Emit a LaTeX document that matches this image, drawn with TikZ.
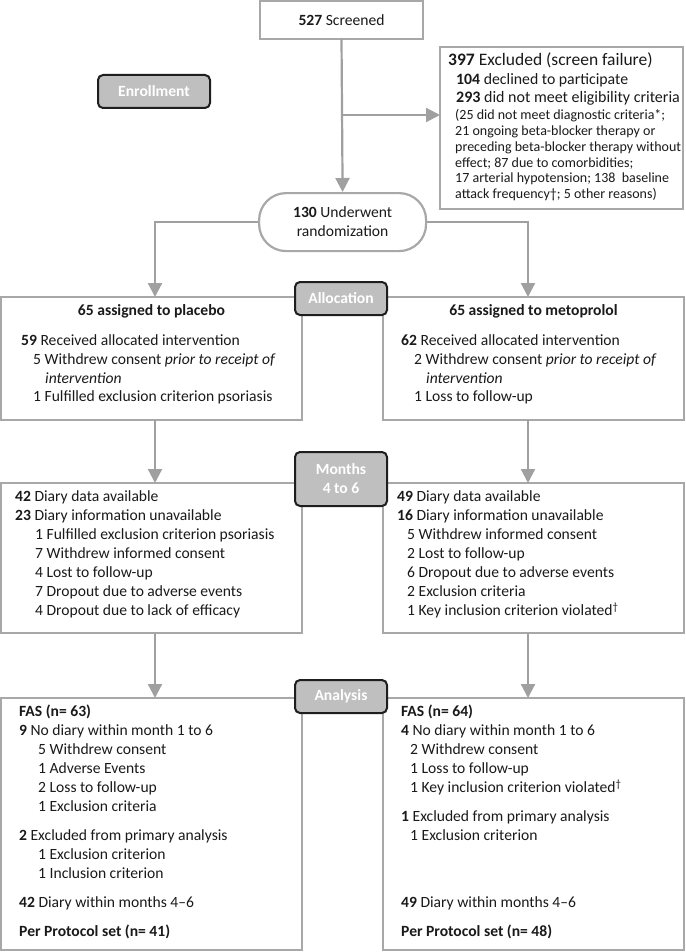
\documentclass[tikz,border=0pt]{standalone}
\usepackage{fontspec}
\setmainfont{Carlito}
\usetikzlibrary{arrows.meta}
\definecolor{conncol}{HTML}{A0A0A0}
\definecolor{boxcol}{HTML}{A8A8A8}
\definecolor{labfill}{HTML}{BFBFBF}
\definecolor{labedge}{HTML}{1E1E1E}
\definecolor{txtcol}{HTML}{1A1A1A}
\begin{document}
\begin{tikzpicture}[x=1pt,y=-1pt,
  box/.style={draw=boxcol, line width=1.6pt, fill=white, inner sep=0pt, outer sep=0pt, anchor=north west, text=txtcol, font=\fontsize{15.6}{19}\selectfont},
  lab/.style={draw=labedge, line width=2pt, fill=labfill, rounded corners=5pt, text=white, font=\bfseries\fontsize{15.6}{19}\selectfont, align=center, inner sep=0pt, minimum width=92pt, minimum height=33pt},
  txt/.style={anchor=mid west, inner sep=0pt, text=txtcol, font=\fontsize{15.6}{19}\selectfont},
  ctr/.style={anchor=mid, inner sep=0pt, text=txtcol, font=\bfseries\fontsize{15.6}{19}\selectfont},
  big/.style={txt, font=\fontsize{16}{19}\selectfont},
  sml/.style={txt, font=\fontsize{14}{16}\selectfont},
  conn/.style={draw=conncol, line width=2.2pt, -{Triangle[length=14pt,width=14pt]}}
]
\useasboundingbox (0,0) rectangle (685,952);

% ---- boxes
\node[box, minimum width=163pt, minimum height=38pt] (scr) at (260,1) {\textbf{527} Screened};
\node[box, minimum width=243pt, minimum height=162pt] (excl) at (440,47) {};
\node[draw=boxcol, line width=2.2pt, fill=white, rounded corners=27pt, minimum width=167pt, minimum height=58pt, anchor=north west, align=center, inner sep=0pt, text=txtcol, font=\fontsize{15.6}{19}\selectfont] (rand) at (258,192) {\textbf{130} Underwent\\randomization};

\node[box, minimum width=301pt, minimum height=123pt] (al1) at (1,297) {};
\node[box, minimum width=301pt, minimum height=123pt] (al2) at (383,297) {};
\node[box, minimum width=301pt, minimum height=150pt] (mo1) at (1,483) {};
\node[box, minimum width=301pt, minimum height=150pt] (mo2) at (383,483) {};
\node[box, minimum width=301pt, minimum height=252pt] (an1) at (1,698) {};
\node[box, minimum width=301pt, minimum height=252pt] (an2) at (383,698) {};

% ---- connectors
\coordinate (j1) at (341.5,115);
\coordinate (a1) at (155,297);
\coordinate (a2) at (528,297);
\draw[conn] (scr.south) -- (rand.north);
\draw[conn] (j1) -- (excl.west |- j1);
\draw[conn] (rand.west) -| (a1);
\draw[conn] (rand.east) -| (a2);
\draw[conn] (al1.south -| a1) -- (mo1.north -| a1);
\draw[conn] (al2.south -| a2) -- (mo2.north -| a2);
\draw[conn] (mo1.south -| a1) -- (an1.north -| a1);
\draw[conn] (mo2.south -| a2) -- (an2.north -| a2);

% ---- stage labels
\node[lab, minimum width=112pt] (lenr) at (154,91.5) {Enrollment};
\node[lab] (lall) at (341,298.5) {Allocation};
\node[lab, minimum height=54pt] (lmon) at (341,479) {Months\\4 to 6};
\node[lab] (lana) at (341,696.5) {Analysis};

% ---- excluded text
\node[txt, font=\fontsize{17.5}{19}\selectfont] (e1) at (448,63) {\textbf{397} Excluded (screen failure)};
\node[big, font=\fontsize{15.8}{19}\selectfont] (e2) at (456,82) {\textbf{104} declined to participate};
\node[big] (e3) at (456,100) {\textbf{293} did not meet eligibility criteria};
\node[sml] (e4) at (455,117) {(25 did not meet diagnostic criteria*;};
\node[sml] (e5) at (455,133) {21 ongoing beta-blocker therapy or};
\node[sml] (e6) at (455,149) {preceding beta-blocker therapy without};
\node[sml] (e7) at (455,165) {effect; 87 due to comorbidities;};
\node[sml] (e8) at (455,180) {17 arterial hypotension; 138\ \ baseline};
\node[sml] (e9) at (455,196) {attack frequency†; 5 other reasons)};

% ---- allocation text
\node[ctr] (p0) at (151.5,313) {65 assigned to placebo};
\node[txt] (p1) at (21,343) {\textbf{59} Received allocated intervention};
\node[txt] (p2) at (33,362) {5 Withdrew consent \textit{prior to receipt of}};
\node[txt] (p3) at (45,381) {\textit{intervention}};
\node[txt] (p4) at (33,399) {1 Fulfilled exclusion criterion psoriasis};

\node[ctr] (m0) at (533.5,313) {65 assigned to metoprolol};
\node[txt] (m1) at (401,343) {\textbf{62} Received allocated intervention};
\node[txt] (m2) at (414,362) {2 Withdrew consent \textit{prior to receipt of}};
\node[txt] (m3) at (426,381) {\textit{intervention}};
\node[txt] (m4) at (414,399) {1 Loss to follow-up};

% ---- months text
\node[txt] (q1) at (15,499) {\textbf{42} Diary data available};
\node[txt] (q2) at (15,518) {\textbf{23} Diary information unavailable};
\node[txt] (q3) at (35,537) {1 Fulfilled exclusion criterion psoriasis};
\node[txt] (q4) at (35,556) {7 Withdrew informed consent};
\node[txt] (q5) at (35,575) {4 Lost to follow-up};
\node[txt] (q6) at (35,594) {7 Dropout due to adverse events};
\node[txt] (q7) at (35,613) {4 Dropout due to lack of efficacy};

\node[txt] (r1) at (397,499) {\textbf{49} Diary data available};
\node[txt] (r2) at (397,518) {\textbf{16} Diary information unavailable};
\node[txt] (r3) at (407,537) {5 Withdrew informed consent};
\node[txt] (r4) at (407,556) {2 Lost to follow-up};
\node[txt] (r5) at (407,575) {6 Dropout due to adverse events};
\node[txt] (r6) at (407,594) {2 Exclusion criteria};
\node[txt] (r7) at (407,613) {1 Key inclusion criterion violated\textsuperscript{†}};

% ---- analysis text
\node[txt] (s1) at (19,714) {\textbf{FAS (n= 63)}};
\node[txt] (s2) at (19,733) {\textbf{9} No diary within month 1 to 6};
\node[txt] (s3) at (38,752) {5 Withdrew consent};
\node[txt] (s4) at (38,771) {1 Adverse Events};
\node[txt] (s5) at (38,790) {2 Loss to follow-up};
\node[txt] (s6) at (38,809) {1 Exclusion criteria};
\node[txt] (s7) at (19,838) {\textbf{2} Excluded from primary analysis};
\node[txt] (s8) at (38,857) {1 Exclusion criterion};
\node[txt] (s9) at (38,876) {1 Inclusion criterion};
\node[txt] (s10) at (19,905) {\textbf{42} Diary within months 4–6};
\node[txt] (s11) at (19,934) {\textbf{Per Protocol set (n= 41)}};

\node[txt] (u1) at (401,714) {\textbf{FAS (n= 64)}};
\node[txt] (u2) at (401,733) {\textbf{4} No diary within month 1 to 6};
\node[txt] (u3) at (410,752) {2 Withdrew consent};
\node[txt] (u4) at (410,771) {1 Loss to follow-up};
\node[txt] (u5) at (410,790) {1 Key inclusion criterion violated\textsuperscript{†}};
\node[txt] (u6) at (401,819) {\textbf{1} Excluded from primary analysis};
\node[txt] (u7) at (410,838) {1 Exclusion criterion};
\node[txt] (u8) at (401,905) {\textbf{49} Diary within months 4–6};
\node[txt] (u9) at (401,934) {\textbf{Per Protocol set (n= 48)}};
\end{tikzpicture}
\end{document}
